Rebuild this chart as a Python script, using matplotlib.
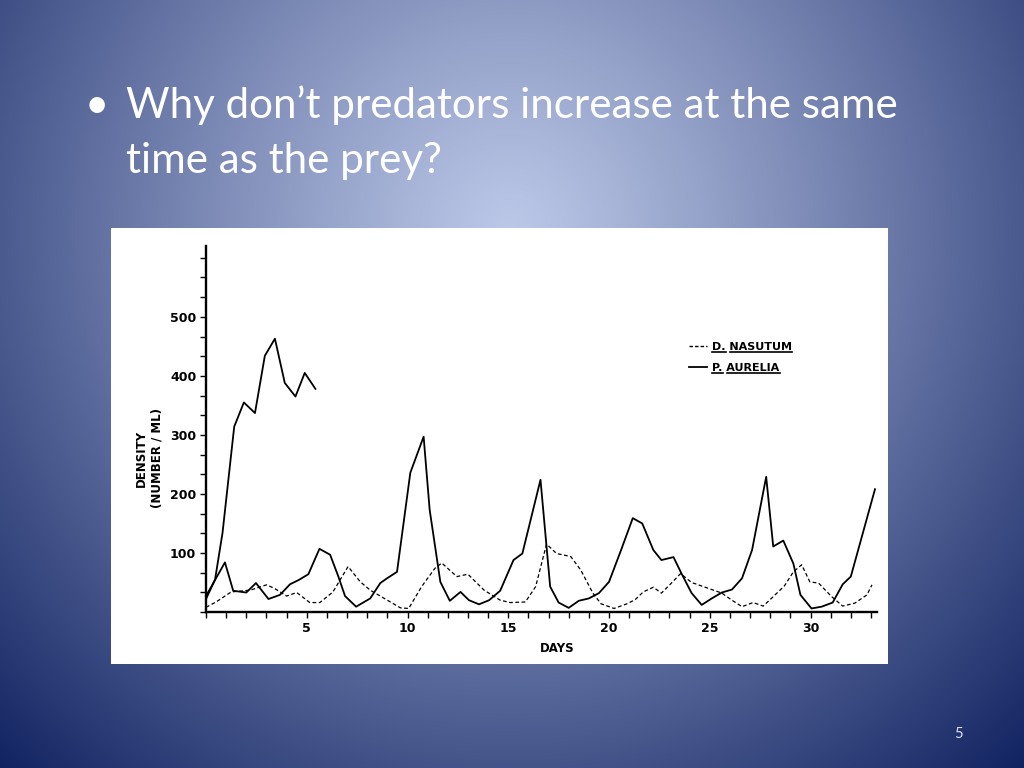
import numpy as np
import matplotlib
matplotlib.use('Agg')
import matplotlib.pyplot as plt
from matplotlib.ticker import MultipleLocator, FixedLocator
from matplotlib.lines import Line2D
from matplotlib.patches import Rectangle

# values: day, density (number / ml)
# P. aurelia grown alone
alone_days = [0, 0.45, 0.82, 1.4, 1.88, 2.43, 2.92, 3.42, 3.91, 4.44, 4.9, 5.43]
alone_density = [22, 55, 134, 314, 355, 337, 434, 463, 388, 365, 405, 378]

# P. aurelia with the predator
prey_days = [0, 0.94, 1.35, 2.0, 2.48, 3.1, 3.67, 4.17, 4.59, 5.08, 5.63, 6.16,
             6.57, 6.9, 7.45, 8.15, 8.65, 8.98, 9.48, 10.14, 10.8, 11.1, 11.63,
             12.1, 12.63, 13.05, 13.55, 14.05, 14.6, 15.26, 15.7, 16.6, 17.08,
             17.5, 18.0, 18.5, 19.0, 19.5, 20.0, 20.6, 21.18, 21.65, 22.2, 22.6,
             23.2, 23.6, 24.1, 24.6, 25.1, 25.6, 26.1, 26.6, 27.1, 27.8, 28.15,
             28.65, 29.15, 29.5, 30.05, 30.55, 31.1, 31.6, 32.0, 33.2]
prey_density = [27, 84, 36, 33, 49, 22, 29, 47, 54, 64, 107, 97,
                60, 27, 9, 23, 49, 57, 68, 236, 297, 173, 51,
                19, 34, 20, 13, 20, 36, 88, 99, 224, 43,
                16, 7, 19, 23, 32, 51, 105, 159, 150, 105, 88,
                93, 65, 32, 12, 23, 33, 38, 57, 105, 229, 111,
                121, 82, 29, 6, 9, 16, 47, 60, 208]

# D. nasutum (predator)
pred_days = [0, 0.5, 1.25, 2.2, 3.0, 3.4, 4.0, 4.5, 5.15, 5.65, 6.3, 7.05,
             7.66, 8.15, 9.0, 9.65, 10.06, 10.7, 11.36, 11.7, 12.45, 13.0,
             13.8, 14.6, 15.1, 15.85, 16.36, 16.9, 17.4, 18.1, 18.6, 19.2,
             19.6, 20.25, 20.9, 21.3, 21.7, 22.2, 22.6, 23.1, 23.55, 24.1,
             24.6, 25.1, 25.6, 26.1, 26.6, 27.15, 27.65, 28.15, 28.7, 29.15,
             29.56, 29.97, 30.4, 31.05, 31.6, 32.2, 32.8, 33.05]
pred_density = [8, 17, 34, 37, 46, 40, 27, 33, 16, 16, 34, 77,
                51, 37, 20, 7, 6, 43, 74, 83, 60, 64,
                37, 20, 16, 17, 43, 115, 99, 94, 71, 32,
                14, 6, 14, 21, 34, 42, 32, 49, 65, 50,
                44, 38, 32, 20, 9, 16, 10, 26, 44, 68,
                80, 51, 49, 26, 10, 15, 29, 46]

x_ticks = [5, 10, 15, 20, 25, 30]
y_ticks = [100, 200, 300, 400, 500]
legend_names = [('D.', 'NASUTUM'), ('P.', 'AURELIA')]

title_lines = ['Why don\u2019t predators increase at the same', 'time as the prey?']

W, H = 1024, 768
fig = plt.figure(figsize=(W / 100, H / 100), dpi=100)

# slide background: radial blue gradient
bg = fig.add_axes([0, 0, 1, 1], zorder=-2)
yy, xx = np.mgrid[0:H, 0:W]
t = np.clip(np.hypot(xx - 510, yy - 230) / 770, 0, 1) ** 1.1
light = np.array([188, 200, 232]) / 255
dark = np.array([10, 28, 92]) / 255
img = light * (1 - t)[..., None] + dark * t[..., None]
bg.imshow(img, aspect='auto', extent=[0, 1, 0, 1])
bg.axis('off')

# white picture box
fig.add_artist(Rectangle((111 / W, 1 - 664 / H), 777 / W, 436 / H,
                         transform=fig.transFigure, facecolor='white',
                         edgecolor='none', zorder=-1))

for i, line in enumerate(title_lines):
    fig.text(126 / W, 1 - (118 + 55 * i) / H, line, color='white',
             fontsize=30.3, family='Lato', va='baseline')
fig.text(85 / W, 1 - 118 / H, '\u2022', color='white', fontsize=30,
         family='Lato', va='baseline')
fig.text(958 / W, 1 - 738 / H, '5', color='#dde3f3', fontsize=10.5,
         family='Lato', ha='center', va='baseline')

# the chart itself
ax = fig.add_axes([206 / W, 1 - 612 / H, (877 - 206) / W, (612 - 246) / H], zorder=1)
ax.patch.set_alpha(0)
ax.plot(alone_days, alone_density, color='black', lw=1.3)
ax.plot(prey_days, prey_density, color='black', lw=1.3)
ax.plot(pred_days, pred_density, color='black', lw=0.9, ls=(0, (3, 2)))

ax.set_xlim(0, 33.3)
ax.set_ylim(0, 620)
for s in ['top', 'right']:
    ax.spines[s].set_visible(False)
for s in ['left', 'bottom']:
    ax.spines[s].set_linewidth(1.7)
ax.xaxis.set_major_locator(FixedLocator(x_ticks))
ax.xaxis.set_minor_locator(MultipleLocator(1))
ax.yaxis.set_major_locator(FixedLocator(y_ticks))
ax.yaxis.set_minor_locator(MultipleLocator(100 / 3))
ax.tick_params(which='both', direction='out', length=4, width=1, labelsize=9, pad=3)
for lab in ax.get_xticklabels() + ax.get_yticklabels():
    lab.set_fontweight('bold')

fig.text(557 / W, 1 - 648 / H, 'DAYS', fontsize=8.5, weight='bold', ha='center', va='center')
fig.text(141 / W, 1 - 458 / H, 'DENSITY', fontsize=8.5, weight='bold', rotation=90,
         ha='center', va='center')
fig.text(157 / W, 1 - 458 / H, '(NUMBER / ML)', fontsize=8.5, weight='bold', rotation=90,
         ha='center', va='center')

handles = [Line2D([], [], color='black', lw=1.0, ls=(0, (2.5, 1.5))),
           Line2D([], [], color='black', lw=1.3)]
leg = ax.legend(handles, [a + ' ' + b for a, b in legend_names], loc='upper left',
                bbox_to_anchor=(689 / W, 1 - 342 / H), bbox_transform=fig.transFigure,
                frameon=False, handlelength=1.6, handletextpad=0.5, labelspacing=1.0,
                borderpad=0, borderaxespad=0, prop=dict(weight='bold', size=8))

# underline the species names word by word
fig.canvas.draw()
rend = fig.canvas.get_renderer()
for txt, (genus, species) in zip(leg.get_texts(), legend_names):
    bb = txt.get_window_extent(rend)
    tmp = fig.text(0, 0, genus, fontproperties=txt.get_fontproperties())
    w1 = tmp.get_window_extent(rend).width
    tmp.set_text(genus + ' ')
    w2 = tmp.get_window_extent(rend).width
    tmp.remove()
    y = bb.y0 + 0.5
    for x0, x1 in [(bb.x0, bb.x0 + w1), (bb.x0 + w2, bb.x1)]:
        fig.add_artist(Line2D([x0 / W, x1 / W], [y / H, y / H], transform=fig.transFigure,
                              color='black', lw=1.2))

fig.savefig('out.png', dpi=100)
